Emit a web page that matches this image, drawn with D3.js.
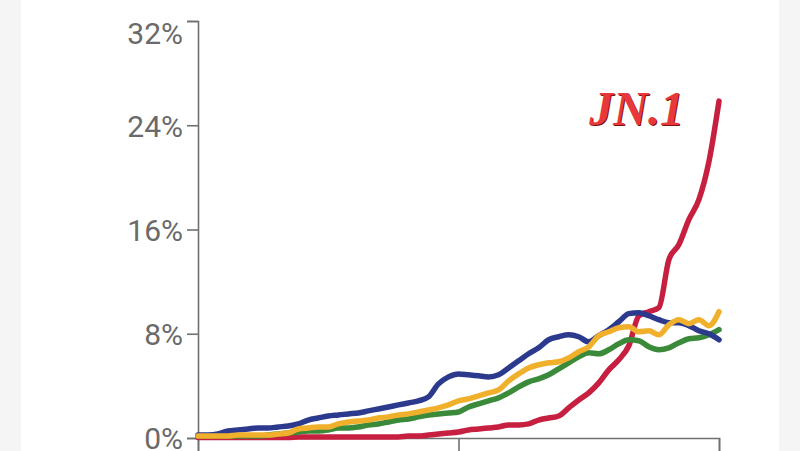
<!DOCTYPE html>
<html>
<head>
<meta charset="utf-8">
<script src="https://cdn.jsdelivr.net/npm/d3@7"></script>
<style>
  html, body { margin: 0; padding: 0; background: #f6f6f6; }
  svg { display: block; }
</style>
</head>
<body>
<svg id="chart" width="800" height="451"></svg>
<script>
// ---- data (percent share, equally spaced observations) ----
const yTicks = [0, 8, 16, 24, 32];
const xTickIdx = [0, 26, 52];
const seriesNames = ["JN.1", "green", "navy", "gold"];

const red = [0.04,0.04,0.04,0.04,0.04,0.04,0.04,0.04,0.04,0.04,
  0.08,0.08,0.08,0.08,0.08,0.08,0.08,0.08,0.08,0.08,
  0.08,0.15,0.15,0.23,0.31,0.38,0.46,0.62,0.69,0.77,
  0.85,1.0,1.0,1.08,1.38,1.54,1.69,2.31,2.92,3.46,
  4.23,5.23,6.0,7.08,9.38,9.69,10.0,13.69,14.85,16.77,
  18.31,21.23,25.85];

const navy = [0.23,0.23,0.31,0.54,0.62,0.69,0.77,0.77,0.85,0.92,
  1.08,1.38,1.54,1.69,1.77,1.85,1.92,2.08,2.23,2.38,
  2.54,2.69,2.85,3.15,4.15,4.69,4.92,4.85,4.77,4.69,
  4.85,5.38,5.92,6.46,6.92,7.54,7.77,7.92,7.77,7.38,
  7.85,8.31,8.92,9.54,9.62,9.38,9.08,8.85,8.85,8.62,
  8.23,8.0,7.54];

const gold = [0.15,0.15,0.15,0.15,0.23,0.23,0.23,0.23,0.31,0.38,
  0.69,0.77,0.85,0.85,1.08,1.23,1.31,1.38,1.54,1.62,
  1.77,1.85,2.0,2.15,2.31,2.54,2.85,3.0,3.23,3.46,
  3.69,4.38,4.92,5.38,5.62,5.77,5.85,6.15,6.62,7.0,
  7.85,8.15,8.46,8.54,8.15,8.23,7.92,8.69,9.08,8.77,
  9.08,8.62,9.69];

const green = [0.15,0.15,0.15,0.15,0.15,0.15,0.15,0.23,0.31,0.38,
  0.46,0.54,0.54,0.62,0.77,0.77,0.85,1.0,1.08,1.23,
  1.38,1.46,1.62,1.77,1.85,1.92,2.0,2.38,2.62,2.85,
  3.08,3.46,3.92,4.31,4.54,4.85,5.31,5.77,6.23,6.54,
  6.46,6.77,7.23,7.54,7.46,7.0,6.77,6.92,7.31,7.62,
  7.69,7.92,8.31];

const colors = { red: "#c71f40", navy: "#2c3a8e", gold: "#f0b02c", green: "#3a8a3a" };

// ---- drawing ----
const svg = d3.select("#chart");
const W = 800, H = 451;

// page background and white card
svg.append("rect").attr("width", W).attr("height", H).attr("fill", "#f5f5f5");
svg.append("rect").attr("x", 21).attr("y", 0).attr("width", 758).attr("height", H).attr("fill", "#ffffff");

const x = d3.scaleLinear().domain([0, red.length - 1]).range([198, 719]);
const y = d3.scaleLinear().domain([0, 32]).range([438, 21]);

// y axis
const yAxis = svg.append("g")
  .attr("transform", "translate(198,0)")
  .call(d3.axisLeft(y).tickValues(yTicks).tickSize(11).tickPadding(4).tickFormat(d => d + "%"));
yAxis.select(".domain").attr("stroke", "#707070").attr("stroke-width", 1.6);
yAxis.selectAll(".tick line").attr("stroke", "#707070").attr("stroke-width", 1.6);
yAxis.selectAll(".tick text")
  .attr("fill", "#6a6a6a")
  .style("font-family", "Roboto, 'Noto Sans', sans-serif")
  .style("font-size", "30px")
  .attr("dy", d => d === 32 ? "0.74em" : "0.36em");

// x axis
const xAxis = svg.append("g")
  .attr("transform", "translate(0,438)")
  .call(d3.axisBottom(x).tickValues(xTickIdx).tickSize(16).tickFormat(""));
xAxis.select(".domain").attr("stroke", "#707070").attr("stroke-width", 1.6);
xAxis.selectAll(".tick line").attr("stroke", "#707070").attr("stroke-width", 1.6);

// lines
const line = d3.line()
  .x((d, i) => x(i))
  .y(d => y(d))
  .curve(d3.curveMonotoneX);

const order = [
  { data: red, color: colors.red },
  { data: green, color: colors.green },
  { data: navy, color: colors.navy },
  { data: gold, color: colors.gold }
];
order.forEach(s => {
  svg.append("path")
    .datum(s.data)
    .attr("d", line)
    .attr("fill", "none")
    .attr("stroke", s.color)
    .attr("stroke-width", 5.5)
    .attr("stroke-linejoin", "round")
    .attr("stroke-linecap", "round");
});

// JN.1 label
const lbl = svg.append("g");
lbl.append("text")
  .attr("x", 685).attr("y", 126)
  .attr("text-anchor", "end")
  .style("font-family", "'Liberation Serif', 'DejaVu Serif', serif")
  .style("font-weight", "bold").style("font-style", "italic")
  .style("font-size", "48px")
  .attr("fill", "#7a1010")
  .text(seriesNames[0]);
lbl.append("text")
  .attr("x", 684).attr("y", 125)
  .attr("text-anchor", "end")
  .style("font-family", "'Liberation Serif', 'DejaVu Serif', serif")
  .style("font-weight", "bold").style("font-style", "italic")
  .style("font-size", "48px")
  .attr("fill", "#e8383b")
  .text(seriesNames[0]);
</script>
</body>
</html>
